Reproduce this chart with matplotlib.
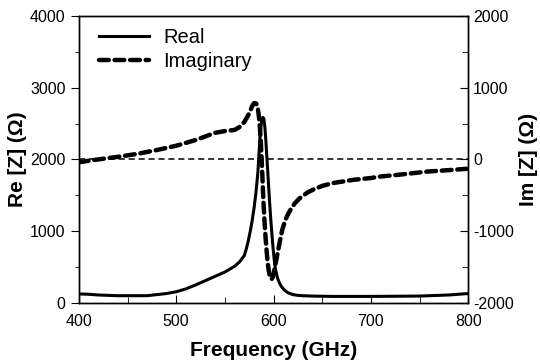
import matplotlib
matplotlib.use('Agg')
import matplotlib.pyplot as plt
from matplotlib.ticker import MultipleLocator

plt.rcParams['font.family'] = ['Liberation Sans', 'DejaVu Sans']
plt.rcParams['axes.unicode_minus'] = False

# Real part (Ohm)
re_freq = [400, 410, 420, 440, 460, 470, 480, 490, 500, 510, 520, 530, 540, 550,
           560, 565, 570, 572, 574, 576, 578, 580, 582, 584, 585, 586, 587, 588,
           589, 590, 591, 592, 593, 594, 595, 596, 597, 598, 599, 600, 601, 602,
           604, 606, 608, 611, 615, 620, 625, 630, 640, 660, 700, 750, 780, 800]
re_vals = [125, 120, 110, 100, 100, 100, 115, 130, 155, 195, 250, 310, 370, 430,
           510, 570, 660, 750, 860, 990, 1140, 1320, 1540, 1830, 2060, 2290, 2450, 2540,
           2585, 2570, 2470, 2290, 2070, 1850, 1620, 1400, 1200, 1020, 850, 700, 570, 470,
           350, 280, 230, 180, 140, 115, 105, 100, 95, 90, 90, 95, 110, 130]

# Imaginary part (Ohm)
im_freq = [400, 410, 420, 440, 460, 480, 500, 520, 540, 550, 560, 565, 570, 575,
           578, 580, 582, 583, 584, 585, 586, 587, 588, 589, 590, 591, 592, 593,
           594, 595, 596, 597, 598, 599, 600, 601, 602, 603, 605, 607, 609, 612,
           615, 618, 622, 627, 635, 641, 650, 661, 682, 700, 709, 728, 758, 780, 800]
im_vals = [-40, -20, 0, 35, 77, 130, 190, 270, 370, 395, 410, 450, 520, 640,
           740, 785, 780, 760, 700, 600, 450, 230, -50, -380, -680, -920, -1120, -1290,
           -1430, -1540, -1620, -1660, -1670, -1650, -1600, -1530, -1460, -1390, -1250, -1110, -980, -850,
           -760, -690, -610, -540, -460, -420, -370, -330, -285, -260, -240, -215, -170, -150, -130]

fig = plt.figure(figsize=(5.4, 3.61), dpi=100)
ax = fig.add_axes([0.146, 0.161, 0.721, 0.795])
ax2 = ax.twinx()

ln_re, = ax.plot(re_freq, re_vals, color='k', lw=2.2, label='Real')
ln_im, = ax2.plot(im_freq, im_vals, color='k', lw=3.2, ls=(0, (2.2, 1.3)),
                  dash_capstyle='round', label='Imaginary')
ax2.axhline(0, color='k', lw=1.1, ls=(0, (4, 2.5)))

ax.set_xlim(400, 800)
ax.set_ylim(0, 4000)
ax2.set_ylim(-2000, 2000)

ax.xaxis.set_major_locator(MultipleLocator(100))
ax.xaxis.set_minor_locator(MultipleLocator(50))
ax.yaxis.set_major_locator(MultipleLocator(1000))
ax.yaxis.set_minor_locator(MultipleLocator(500))
ax2.yaxis.set_major_locator(MultipleLocator(1000))
ax2.yaxis.set_minor_locator(MultipleLocator(500))

ax.tick_params(axis='x', which='both', direction='in', top=False, labelsize=11.5, pad=8)
ax.tick_params(axis='x', which='major', length=6)
ax.tick_params(axis='x', which='minor', length=4)
ax.tick_params(axis='y', which='major', direction='out', length=6, labelsize=11.5)
ax.tick_params(axis='y', which='minor', direction='out', length=3)
ax2.tick_params(axis='y', which='major', direction='in', length=6, labelsize=11.5)
ax2.tick_params(axis='y', which='minor', direction='in', length=4)

for a in (ax, ax2):
    for s in a.spines.values():
        s.set_linewidth(1.0)

ax.set_xlabel('Frequency (GHz)', fontsize=15, fontweight='bold', labelpad=9)
ax.set_ylabel('Re [Z] (\u03a9)', fontsize=15, fontweight='bold', labelpad=2)
ax2.set_ylabel('Im [Z] (\u03a9)', fontsize=15, fontweight='bold', labelpad=4)

ax.legend(handles=[ln_re, ln_im], loc='upper left', frameon=False, fontsize=14.5,
          handlelength=2.5, handletextpad=0.7, labelspacing=0.25,
          borderaxespad=0.2, bbox_to_anchor=(0.02, 1.0))

fig.savefig('out.png', dpi=100)
